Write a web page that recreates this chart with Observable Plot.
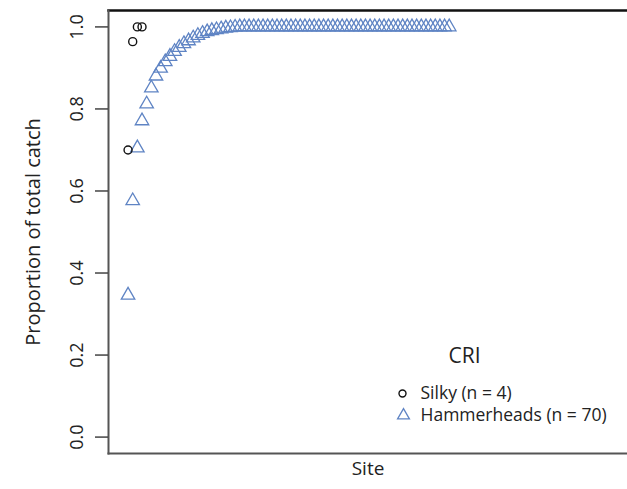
<!DOCTYPE html>
<html>
<head>
<meta charset="utf-8">
<script src="https://cdn.jsdelivr.net/npm/d3@7"></script>
<script src="https://cdn.jsdelivr.net/npm/@observablehq/plot@0.6"></script>
<style>
  html, body { margin: 0; padding: 0; background: #fff; }
  #chart svg { display: block; }
</style>
</head>
<body>
<div id="chart"></div>
<script>
// Data
const silkyProp = [0.70, 0.964, 1.0, 1.0];
const hammerProp = [
  0.346, 0.576, 0.705, 0.771, 0.812, 0.851, 0.880, 0.899, 0.915, 0.928,
  0.940, 0.950, 0.959, 0.966, 0.973, 0.979, 0.984, 0.988, 0.991, 0.993,
  0.995, 0.997, 0.998, 0.999, 1.0, 1.0, 1.0, 1.0, 1.0, 1.0,
  1.0, 1.0, 1.0, 1.0, 1.0, 1.0, 1.0, 1.0, 1.0, 1.0,
  1.0, 1.0, 1.0, 1.0, 1.0, 1.0, 1.0, 1.0, 1.0, 1.0,
  1.0, 1.0, 1.0, 1.0, 1.0, 1.0, 1.0, 1.0, 1.0, 1.0,
  1.0, 1.0, 1.0, 1.0, 1.0, 1.0, 1.0, 1.0, 1.0, 1.0
];
const yTicks = [0, 0.2, 0.4, 0.6, 0.8, 1.0];
const legendTitle = "CRI";
const legendLabels = ["Silky (n = 4)", "Hammerheads (n = 70)"];

const silky = silkyProp.map((v, i) => ({site: i + 1, prop: v}));
const hammer = hammerProp.map((v, i) => ({site: i + 1, prop: v}));

const blue = "#5f84c4";
const font = "'Open Sans', 'DejaVu Sans', sans-serif";
const txt = {fill: "#222", textAnchor: "middle", lineAnchor: "middle"};

const chart = Plot.plot({
  width: 627,
  height: 489,
  marginLeft: 108,
  marginTop: 10,
  marginRight: 0,
  marginBottom: 36,
  style: {fontFamily: font, background: "#fff", color: "#222"},
  x: {domain: [-3.2, 108.3], axis: null},
  y: {domain: [-0.04, 1.04], axis: null},
  marks: [
    Plot.frame({anchor: "top", stroke: "#111", strokeWidth: 2.5}),
    Plot.frame({anchor: "left", stroke: "#555", strokeWidth: 2}),
    Plot.frame({anchor: "bottom", stroke: "#555", strokeWidth: 2}),
    Plot.axisY({ticks: yTicks, tickSize: 13, tickFormat: () => "", label: null, stroke: "#444", strokeWidth: 1.5}),
    Plot.text(yTicks, {...txt, y: d => d, frameAnchor: "left", dx: -31, rotate: -90,
      text: d => d.toFixed(1), fontSize: 18}),
    Plot.text(["Proportion of total catch"], {...txt, frameAnchor: "left", dx: -75, rotate: -90,
      fontSize: 20}),
    Plot.text(["Site"], {...txt, frameAnchor: "bottom", dy: 15, fontSize: 19}),
    Plot.dot(hammer, {x: "site", y: "prop", symbol: "triangle", r: 5, fill: "none",
      stroke: blue, strokeWidth: 1.3}),
    Plot.dot(silky, {x: "site", y: "prop", symbol: "circle", r: 4, fill: "none",
      stroke: "#111", strokeWidth: 1.4}),
    // legend
    Plot.text([legendTitle], {...txt, frameAnchor: "bottom-right", dx: -163, dy: -97, fontSize: 21}),
    Plot.dot([0], {frameAnchor: "bottom-right", dx: -225, dy: -60, symbol: "circle", r: 3.5,
      fill: "none", stroke: "#111", strokeWidth: 1.4}),
    Plot.dot([1], {frameAnchor: "bottom-right", dx: -224, dy: -38, symbol: "triangle", r: 4.4,
      fill: "none", stroke: blue, strokeWidth: 1.3}),
    Plot.text([legendLabels[0]], {...txt, frameAnchor: "bottom-right", dx: -207, dy: -60, textAnchor: "start",
      fontSize: 17.5}),
    Plot.text([legendLabels[1]], {...txt, frameAnchor: "bottom-right", dx: -207, dy: -38, textAnchor: "start",
      fontSize: 17.5})
  ]
});
document.getElementById("chart").appendChild(chart);
</script>
</body>
</html>
